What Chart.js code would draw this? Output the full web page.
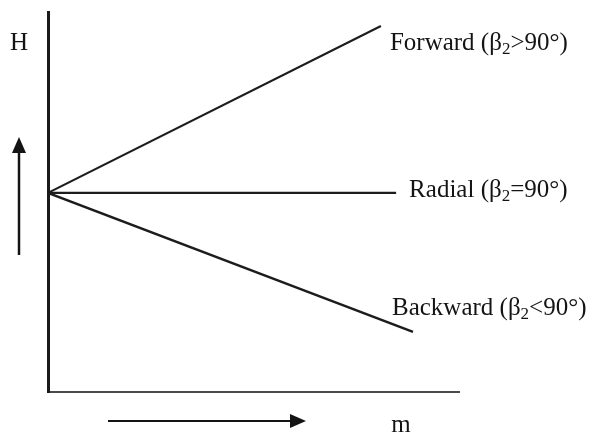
<!DOCTYPE html>
<html>
<head>
<meta charset="utf-8">
<script src="https://cdn.jsdelivr.net/npm/chart.js@4"></script>
<style>
  body { margin: 0; background: #fff; }
  #wrap { width: 592px; height: 434px; }
</style>
</head>
<body>
<div id="wrap"><canvas id="grafico" width="592" height="434"></canvas></div>
<script>
// nomes das curvas e condição do ângulo β2
const seriesNames = ["Forward", "Radial", "Backward"];
const seriesRelations = [">90°", "=90°", "<90°"];

// vazão m (eixo x) e altura H (eixo y), unidades arbitrárias
const forwardM = [0, 8.10];
const forwardH = [5.24, 9.63];
const radialM = [0, 8.47];
const radialH = [5.24, 5.24];
const backwardM = [0, 8.88];
const backwardH = [5.24, 1.58];

const axisMax = 10;
const axisTitleY = "H";
const axisTitleX = "m";

const FONT = "'Liberation Serif', 'Times New Roman', serif";

function toPoints(xs, ys) {
    return xs.map((x, i) => ({ x: x, y: ys[i] }));
}

// texto com subscrito: "Nome (β2>90°)"
function drawLabel(ctx, x, y, name, rel) {
    ctx.font = "25px " + FONT;
    let txt = name + " (β";
    ctx.fillText(txt, x, y);
    x += ctx.measureText(txt).width;
    ctx.font = "17px " + FONT;
    ctx.fillText("2", x, y + 4);
    x += ctx.measureText("2").width;
    ctx.font = "25px " + FONT;
    ctx.fillText(rel + ")", x, y);
}

function arrowHead(ctx, tipX, tipY, dx, dy) {
    // dx,dy = direção unitária da seta
    let len = 16, half = 7;
    let bx = tipX - dx * len, by = tipY - dy * len;
    ctx.beginPath();
    ctx.moveTo(tipX, tipY);
    ctx.lineTo(bx - dy * half, by + dx * half);
    ctx.lineTo(bx + dy * half, by - dx * half);
    ctx.closePath();
    ctx.fill();
}

const labelOffsets = [[9, 24], [13, 4], [-21, -17]];

const annotations = {
    id: "annotations",
    afterDatasetsDraw(chart) {
        let ctx = chart.ctx;
        let area = chart.chartArea;
        ctx.save();
        ctx.fillStyle = "#141414";
        ctx.strokeStyle = "#141414";
        ctx.textBaseline = "alphabetic";

        // rótulos no fim de cada linha
        chart.data.datasets.forEach((ds, i) => {
            let pts = chart.getDatasetMeta(i).data;
            let end = pts[pts.length - 1];
            drawLabel(ctx, end.x + labelOffsets[i][0], end.y + labelOffsets[i][1], seriesNames[i], seriesRelations[i]);
        });

        // títulos dos eixos
        ctx.font = "25px " + FONT;
        ctx.textAlign = "center";
        ctx.fillText(axisTitleY, area.left - 29, area.top + 38);
        ctx.fillText(axisTitleX, area.left + 353, area.bottom + 40);

        // seta vertical
        ctx.lineWidth = 2.5;
        ctx.beginPath();
        ctx.moveTo(area.left - 29, area.bottom - 137);
        ctx.lineTo(area.left - 29, area.top + 140);
        ctx.stroke();
        arrowHead(ctx, area.left - 29, area.top + 125, 0, -1);

        // seta horizontal
        ctx.lineWidth = 2;
        ctx.beginPath();
        ctx.moveTo(area.left + 60, area.bottom + 29);
        ctx.lineTo(area.left + 245, area.bottom + 29);
        ctx.stroke();
        arrowHead(ctx, area.left + 258, area.bottom + 29, 1, 0);
        ctx.restore();
    }
};

const lineStyle = {
    borderColor: "#1c1c1c",
    borderWidth: 2.4,
    pointRadius: 0,
    showLine: true,
    fill: false,
    tension: 0
};

new Chart(document.getElementById("grafico"), {
    type: "scatter",
    data: {
        datasets: [
            Object.assign({ label: seriesNames[0], data: toPoints(forwardM, forwardH) }, lineStyle, { borderWidth: 2.1 }),
            Object.assign({ label: seriesNames[1], data: toPoints(radialM, radialH) }, lineStyle),
            Object.assign({ label: seriesNames[2], data: toPoints(backwardM, backwardH) }, lineStyle)
        ]
    },
    options: {
        responsive: false,
        animation: false,
        devicePixelRatio: 1,
        layout: { padding: { left: 48, right: 133, top: 12, bottom: 42 } },
        plugins: {
            legend: { display: false },
            tooltip: { enabled: false }
        },
        scales: {
            x: {
                type: "linear",
                min: 0,
                max: axisMax,
                ticks: { display: false },
                grid: { display: false, drawTicks: false },
                border: { display: true, color: "#4a4a4a", width: 2 }
            },
            y: {
                type: "linear",
                min: 0,
                max: axisMax,
                ticks: { display: false },
                grid: { display: false, drawTicks: false },
                border: { display: true, color: "#1a1a1a", width: 3 }
            }
        }
    },
    plugins: [annotations]
});
</script>
</body>
</html>
